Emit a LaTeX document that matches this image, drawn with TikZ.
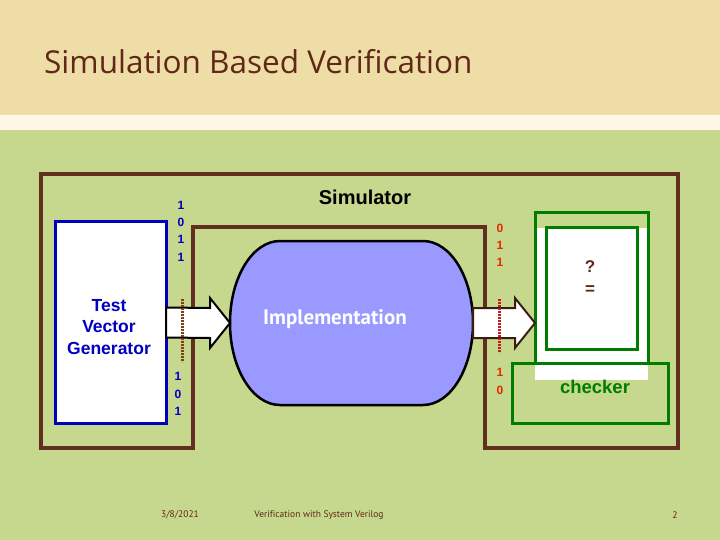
\documentclass[tikz,border=0pt]{standalone}
\usepackage{fontspec}
\setmainfont{Liberation Sans}
\newfontfamily\slidefont[Ligatures=NoCommon]{PT Sans}
\newfontfamily\titlefont[Ligatures=NoCommon]{Open Sans}
\usetikzlibrary{positioning,calc}
\definecolor{bandclr}{RGB}{238,221,166}
\definecolor{stripclr}{RGB}{253,247,232}
\definecolor{slideclr}{RGB}{197,216,142}
\definecolor{frameclr}{RGB}{98,46,30}
\definecolor{titleclr}{RGB}{96,40,24}
\definecolor{genclr}{RGB}{0,0,190}
\definecolor{implclr}{RGB}{153,153,255}
\definecolor{chkclr}{RGB}{0,125,0}
\definecolor{outclr}{RGB}{230,40,0}
\definecolor{probeclr}{RGB}{190,30,30}

\begin{document}
\begin{tikzpicture}[
    x=1pt,
    y=-1pt,
    bitfont/.style={font=\bfseries\fontsize{12}{17.3}\selectfont, align=center, inner sep=0pt},
    genbox/.style={draw=genclr, fill=white, line width=3pt, outer sep=0pt, minimum width=111pt, minimum height=201pt},
    implbox/.style={outer sep=0pt, inner sep=0pt, minimum width=243pt, minimum height=164pt},
    implshape/.style={draw=black, fill=implclr, line width=2.5pt},
    chkbox/.style={draw=chkclr, line width=3pt, outer sep=0pt},
    blockarrow/.style={fill=white, line width=2pt, line join=miter},
    frame/.style={draw=frameclr, line width=4pt, line join=miter},
    probe/.style={line width=3pt, dash pattern=on 1.6pt off 1.4pt},
    footer/.style={font=\slidefont\fontsize{9.5}{11}\selectfont, text=titleclr, inner sep=0pt}
]
\useasboundingbox (0,0) rectangle (720,540);

% Slide background.
\fill[slideclr] (0,0) rectangle (720,540);
\fill[bandclr] (0,0) rectangle (720,115);
\fill[stripclr] (0,115) rectangle (720,130);

% Title.
\node[anchor=base west, inner sep=0pt, font=\titlefont\fontsize{31.5}{36}\selectfont, text=titleclr] (title) at (44,74) {Simulation Based Verification};

% Simulator frame.
\draw[frame] (41,448) -- (41,174) -- (678,174) -- (678,448) -- (485,448) -- (485,227) -- (193,227) -- (193,448) -- cycle;
\node[font=\bfseries\fontsize{20}{22}\selectfont] (sim) at (365,197) {Simulator};

% Generator.
\node[genbox] (gen) at (110.5,322.5) {};
\node[align=center, text=genclr, font=\bfseries\fontsize{17.5}{21.5}\selectfont] (genname) at (109,327) {Test\\Vector\\Generator};

% Implementation.
\node[implbox] (impl) at (351.5,323) {};
\draw[implshape] ($(impl.north west)+(50,0)$) -- ($(impl.north east)+(-50,0)$)
    arc[start angle=90, end angle=-90, x radius=50pt, y radius=82pt]
    -- ($(impl.south west)+(50,0)$)
    arc[start angle=270, end angle=90, x radius=50pt, y radius=82pt] -- cycle;
\node[font=\slidefont\bfseries\fontsize{21}{24}\selectfont, text=white] (implname) at (335,319) {Implementation};

% Checker.
\fill[white] (535,228) rectangle (648,380);
\node[chkbox, minimum width=113pt, minimum height=150pt] (chk) at (591.5,288) {};
\node[chkbox, minimum width=91pt, minimum height=121pt] (cmp) at (591.5,288.5) {};
\node[chkbox, minimum width=156pt, minimum height=60pt] (chkfoot) at (590,393) {};
\node[font=\bfseries\fontsize{17}{22}\selectfont, text=titleclr, align=center] (eq) at (590,278) {?\\=};
\node[font=\bfseries\fontsize{18.5}{22}\selectfont, text=chkclr] (chkname) at (595,387) {checker};

% Block arrows.
\coordinate (resultTip) at (impl.east -| chk.west);
\draw[blockarrow, draw=black] ($(gen.east)+(0,-15)$) -- ($(impl.west)+(-20,-15)$) -- ($(impl.west)+(-20,-25)$)
    -- (impl.west) -- ($(impl.west)+(-20,25)$) -- ($(impl.west)+(-20,15)$) -- ($(gen.east)+(0,15)$) -- cycle;
\draw[blockarrow, draw=frameclr!60!black] ($(impl.east)+(0,-15)$) -- ($(resultTip)+(-20,-15)$) -- ($(resultTip)+(-20,-25)$)
    -- (resultTip) -- ($(resultTip)+(-20,25)$) -- ($(resultTip)+(-20,15)$) -- ($(impl.east)+(0,15)$) -- cycle;

% Probes on the arrows.
\draw[probe, draw=frameclr!80!orange] (182,299) -- (182,362);
\draw[probe, draw=probeclr] (499,299) -- (499,353);

% Bit streams.
\node[bitfont, text=genclr] (inbits) at (181,231) {1\\0\\1\\1};
\node[bitfont, text=genclr] (inbits2) at (178,394) {1\\0\\1};
\node[bitfont, text=outclr] (outbits) at (500,245.5) {0\\1\\1};
\node[bitfont, text=outclr] (outbits2) at (500,381.5) {1\\0};

% Footer.
\node[footer] (date) at (180,515) {3/8/2021};
\node[footer] (course) at (319,515) {Verification with System Verilog};
\node[footer] (page) at (675,515) {2};

\end{tikzpicture}
\end{document}
